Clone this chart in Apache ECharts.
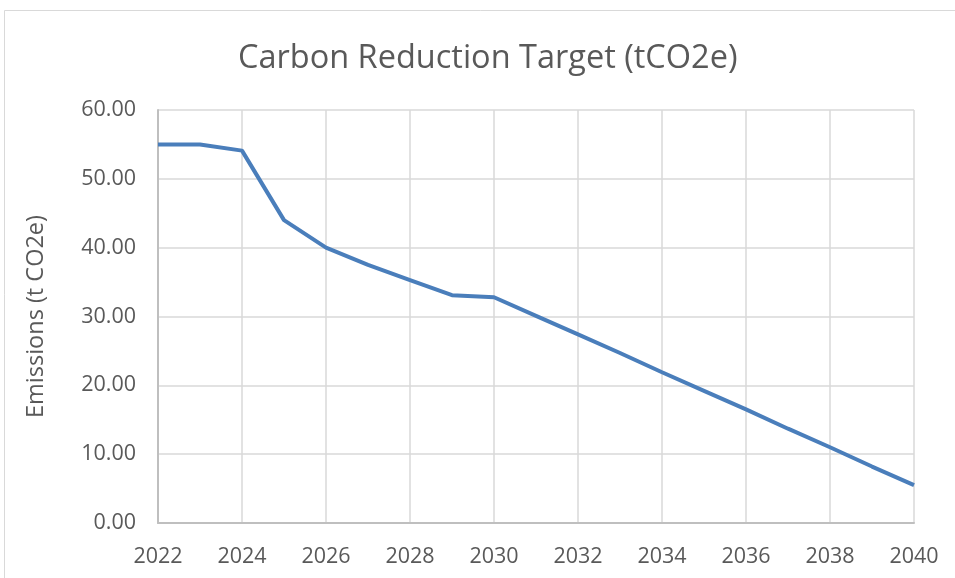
<!DOCTYPE html>
<html lang="en">
<head>
<meta charset="UTF-8">
<title>Carbon Reduction Target</title>
<script src="https://cdn.jsdelivr.net/npm/echarts@6/dist/echarts.min.js"></script>
<style>
  html, body { margin: 0; padding: 0; background: #fff; }
  #main { width: 955px; height: 578px; }
</style>
</head>
<body>
<div id="main"></div>
<script>
// years and emissions
var years = [2022, 2023, 2024, 2025, 2026, 2027, 2028, 2029, 2030, 2031,
             2032, 2033, 2034, 2035, 2036, 2037, 2038, 2039, 2040];
var emissions = [55.0, 55.0, 54.1, 44.0, 40.0, 37.5, 35.3, 33.1, 32.8, 30.1,
                 27.4, 24.7, 21.9, 19.2, 16.5, 13.7, 11.0, 8.2, 5.5];

var points = years.map(function (y, i) { return [y, emissions[i]]; });

var font = '"Open Sans", sans-serif';
var grey = '#595959';

var chart = echarts.init(document.getElementById('main'));
chart.setOption({
    animation: false,
    backgroundColor: '#fff',
    graphic: [{
        type: 'rect',
        shape: { x: 4.5, y: 10.5, width: 960, height: 600 },
        style: { fill: 'none', stroke: '#d9d9d9', lineWidth: 1 }
    }],
    title: {
        text: 'Carbon Reduction Target (tCO2e)',
        left: 233,
        top: 37,
        textStyle: { fontFamily: font, fontSize: 32.5, fontWeight: 'normal', color: grey }
    },
    grid: { left: 158, right: 41, top: 110, bottom: 55 },
    xAxis: {
        type: 'value',
        min: 2022,
        max: 2040,
        interval: 2,
        axisLine: { show: true, lineStyle: { color: '#bfbfbf', width: 2 } },
        axisTick: { show: false },
        axisLabel: {
            margin: 23,
            fontFamily: font, fontSize: 21.5, color: grey,
            formatter: function (v) { return String(v); }
        },
        splitLine: { show: true, lineStyle: { color: '#d9d9d9', width: 1.5 } }
    },
    yAxis: {
        type: 'value',
        min: 0,
        max: 60,
        interval: 10,
        name: 'Emissions (t CO2e)',
        nameLocation: 'middle',
        nameGap: 110,
        nameTextStyle: { fontFamily: font, fontSize: 23.5, color: grey },
        axisLine: { show: true, lineStyle: { color: '#bfbfbf', width: 2 } },
        axisTick: { show: false },
        axisLabel: {
            margin: 22,
            fontFamily: font, fontSize: 21.5, color: grey,
            formatter: function (v) { return v.toFixed(2); }
        },
        splitLine: { show: true, lineStyle: { color: '#d9d9d9', width: 1.5 } }
    },
    series: [{
        type: 'line',
        data: points,
        symbol: 'none',
        lineStyle: { color: '#4a7ebb', width: 4 }
    }]
});
</script>
</body>
</html>
